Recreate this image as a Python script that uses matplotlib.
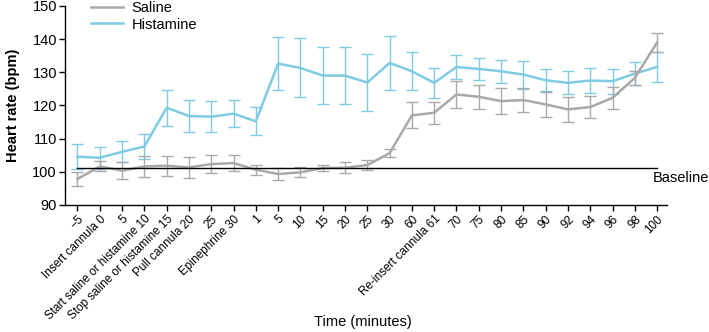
import matplotlib
matplotlib.use("Agg")
import matplotlib.pyplot as plt
from matplotlib.lines import Line2D
import numpy as np

plt.rcParams["font.family"] = ["Liberation Sans", "DejaVu Sans"]

# x categories (time points, minutes)
time_labels = [
    "\u22125", "Insert cannula 0", "5", "Start saline or histamine 10",
    "Stop saline or histamine 15", "Pull cannula 20", "25", "Epinephrine 30",
    "1", "5", "10", "15", "20", "25", "30", "60", "Re-insert cannula 61",
    "70", "75", "80", "85", "90", "92", "94", "96", "98", "100",
]

saline_mean = [97.8, 101.6, 100.3, 101.6, 101.8, 101.3, 102.3, 102.6, 100.6,
               99.3, 99.8, 101.1, 101.2, 102.0, 105.6, 117.0, 117.8, 123.3,
               122.6, 121.3, 121.6, 120.3, 118.8, 119.5, 122.3, 128.3, 139.0]
saline_err = [2.1, 1.5, 2.6, 3.2, 3.0, 3.2, 2.8, 2.4, 1.5, 1.8, 1.5, 1.0, 1.6,
              1.6, 1.3, 3.9, 3.3, 4.0, 3.6, 4.0, 3.6, 3.7, 3.7, 3.3, 3.4, 2.0, 2.8]

histamine_mean = [104.5, 104.2, 106.0, 107.6, 119.3, 116.8, 116.6, 117.5, 115.2,
                  132.6, 131.3, 129.0, 129.0, 126.9, 132.8, 130.3, 126.8, 131.6,
                  131.0, 130.3, 129.3, 127.6, 126.8, 127.5, 127.3, 129.6, 131.6]
histamine_err = [3.8, 3.3, 3.2, 3.7, 5.4, 4.7, 4.7, 4.1, 4.2, 8.0, 8.9, 8.5, 8.5,
                 8.6, 8.0, 5.7, 4.6, 3.7, 3.3, 3.5, 4.2, 3.4, 3.5, 3.7, 3.8, 3.5, 4.5]

baseline = 101.0

SALINE = "#a9a9a9"
HIST = "#7fcbe3"

fig = plt.figure(figsize=(7.09, 3.32), dpi=100)
ax = fig.add_axes([0.092, 0.383, 0.849, 0.599])

x = np.arange(len(time_labels))

ax.errorbar(x, histamine_mean, yerr=histamine_err, color=HIST, lw=1.8,
            elinewidth=1.0, capsize=4.5, capthick=1.0, zorder=2)
ax.errorbar(x, saline_mean, yerr=saline_err, color=SALINE, lw=1.8,
            elinewidth=1.0, capsize=4.5, capthick=1.0, zorder=3)

# baseline reference line
ax.plot([x[0], x[-1]], [baseline, baseline], color="black", lw=1.0, zorder=4)
ax.text(x[-1] - 0.2, baseline - 0.8, "Baseline", ha="left", va="top",
        fontsize=10.5, clip_on=False)

ax.set_xlim(-0.55, 26.45)
ax.set_ylim(90, 150)
ax.set_yticks(range(90, 151, 10))
ax.set_xticks(x)
ax.set_xticklabels(time_labels, rotation=45, ha="right", rotation_mode="anchor",
                   fontsize=8.5)
ax.tick_params(axis="y", labelsize=10.5, length=4, width=1, pad=2)
ax.tick_params(axis="x", length=4, width=1, pad=2)

for s in ("top", "right"):
    ax.spines[s].set_visible(False)
for s in ("left", "bottom"):
    ax.spines[s].set_linewidth(1.0)

ax.set_ylabel("Heart rate (bpm)", fontsize=10.5, fontweight="bold", labelpad=9)
ax.set_xlabel("Time (minutes)", fontsize=10.5)
ax.xaxis.set_label_coords(0.495, -0.555)

leg_handles = [Line2D([], [], color=SALINE, lw=1.8), Line2D([], [], color=HIST, lw=1.8)]
ax.legend(leg_handles, ["Saline", "Histamine"], loc="upper left",
          bbox_to_anchor=(0.03, 1.06), frameon=False, fontsize=10.5,
          handlelength=2.2, handletextpad=0.6, labelspacing=0.15, borderpad=0)

fig.savefig("out.png", dpi=100)
